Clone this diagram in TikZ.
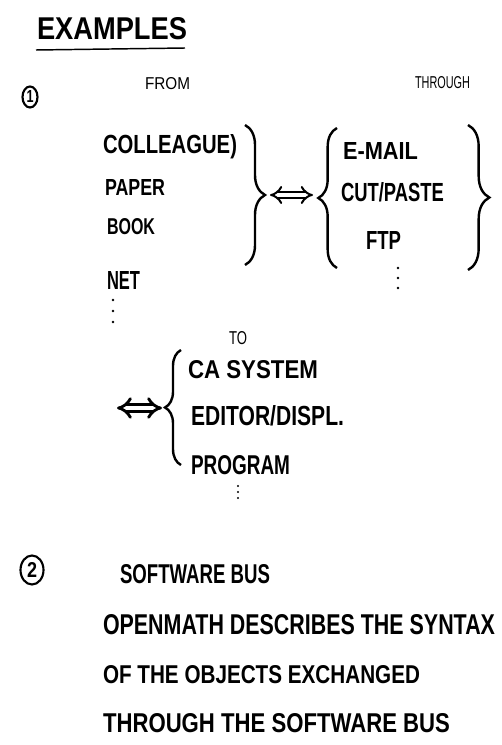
\documentclass[tikz,border=0pt]{standalone}
\usepackage{fontspec}
\usepackage{graphicx}
\setmainfont{Liberation Sans}
\usetikzlibrary{decorations.pathreplacing,arrows.meta,shapes.geometric}
\newlength\px
\setlength\px{0.75pt}
\newcommand{\fitbox}[3]{\resizebox{#1\px}{#2\px}{#3}}
\begin{document}
\begin{tikzpicture}[x=0.75pt,y=-0.75pt,
  word/.style={anchor=north west, inner sep=0pt, outer sep=0pt, font=\bfseries},
  thin/.style={anchor=north west, inner sep=0pt, outer sep=0pt, font=\normalfont},
  brc/.style={decorate, decoration={brace, amplitude=#1}, line width=1.8pt},
  dblarrow/.style={double, double distance=3pt, line width=1.5pt, {Implies}-{Implies}},
  dotmark/.style={circle, fill=black, inner sep=0pt, minimum size=2.2pt},
  circnum/.style={ellipse, draw, line width=1.6pt, inner sep=0pt, font=\bfseries}
]
\useasboundingbox (0,0) rectangle (501,745);

% title
\node[word] (title) at (37,18) {\fitbox{150}{22}{EXAMPLES}};
\draw[line width=1.1pt] (36,50) -- (185,48);

% section 1
\node[circnum, minimum width=15\px, minimum height=21\px] (one) at (30,97) {\fitbox{7}{12}{1}};
\node[thin] (from) at (145,78) {\fitbox{45}{12}{FROM}};
\node[thin] (through) at (415,77) {\fitbox{55}{12}{THROUGH}};

\node[word] (colleague) at (103,135) {\fitbox{134}{19}{COLLEAGUE)}};
\node[word] (paper) at (105,180) {\fitbox{60}{16}{PAPER}};
\node[word] (book) at (107,218) {\fitbox{48}{16}{BOOK}};
\node[word] (net) at (107,271) {\fitbox{33}{18}{NET}};

\node[word] (email) at (343,143) {\fitbox{75}{17}{E-MAIL}};
\node[word] (cutpaste) at (341,183) {\fitbox{103}{19}{CUT/PASTE}};
\node[word] (ftp) at (366,231) {\fitbox{35}{18}{FTP}};

\node[thin] (to) at (229,331) {\fitbox{18}{13}{TO}};
\node[word] (casys) at (188,360) {\fitbox{130}{18}{CA SYSTEM}};
\node[word] (editor) at (191,405) {\fitbox{153}{20}{EDITOR/DISPL.}};
\node[word] (program) at (191,455) {\fitbox{99}{19}{PROGRAM}};

% braces
\draw[brc=15pt] (245,125) -- (245,265);
\draw[brc=14pt] (337,268) -- (337,128);
\draw[brc=16pt] (468,125) -- (468,270);
\draw[brc=12pt] (181,465) -- (181,350);

% arrows
\coordinate (a1l) at (270,195);
\coordinate (a1r) at (313,195);
\draw[dblarrow] (a1l) -- (a1r);
\coordinate (a2l) at (117,408);
\coordinate (a2r) at (162,408);
\draw[dblarrow, line width=2.1pt, double distance=3.2pt] (a2l) -- (a2r);

% dots
\foreach \yy in {300,311,322} \node[dotmark] at (113,\yy) {};
\foreach \yy in {268,278,288} \node[dotmark] at (398,\yy) {};
\foreach \yy in {486,492,498} \node[dotmark, minimum size=1.6pt] at (238,\yy) {};

% section 2
\node[circnum, minimum width=23\px, minimum height=29\px] (two) at (32,570) {\fitbox{10}{15}{2}};
\node[word] (swbus) at (120,564) {\fitbox{150}{19}{SOFTWARE BUS}};
\node[word] (line1) at (103,614) {\fitbox{392}{20}{OPENMATH DESCRIBES THE SYNTAX}};
\node[word] (line2) at (103,665) {\fitbox{317}{18}{OF THE OBJECTS EXCHANGED}};
\node[word] (line3) at (103,713) {\fitbox{347}{19}{THROUGH THE SOFTWARE BUS}};
\end{tikzpicture}
\end{document}
